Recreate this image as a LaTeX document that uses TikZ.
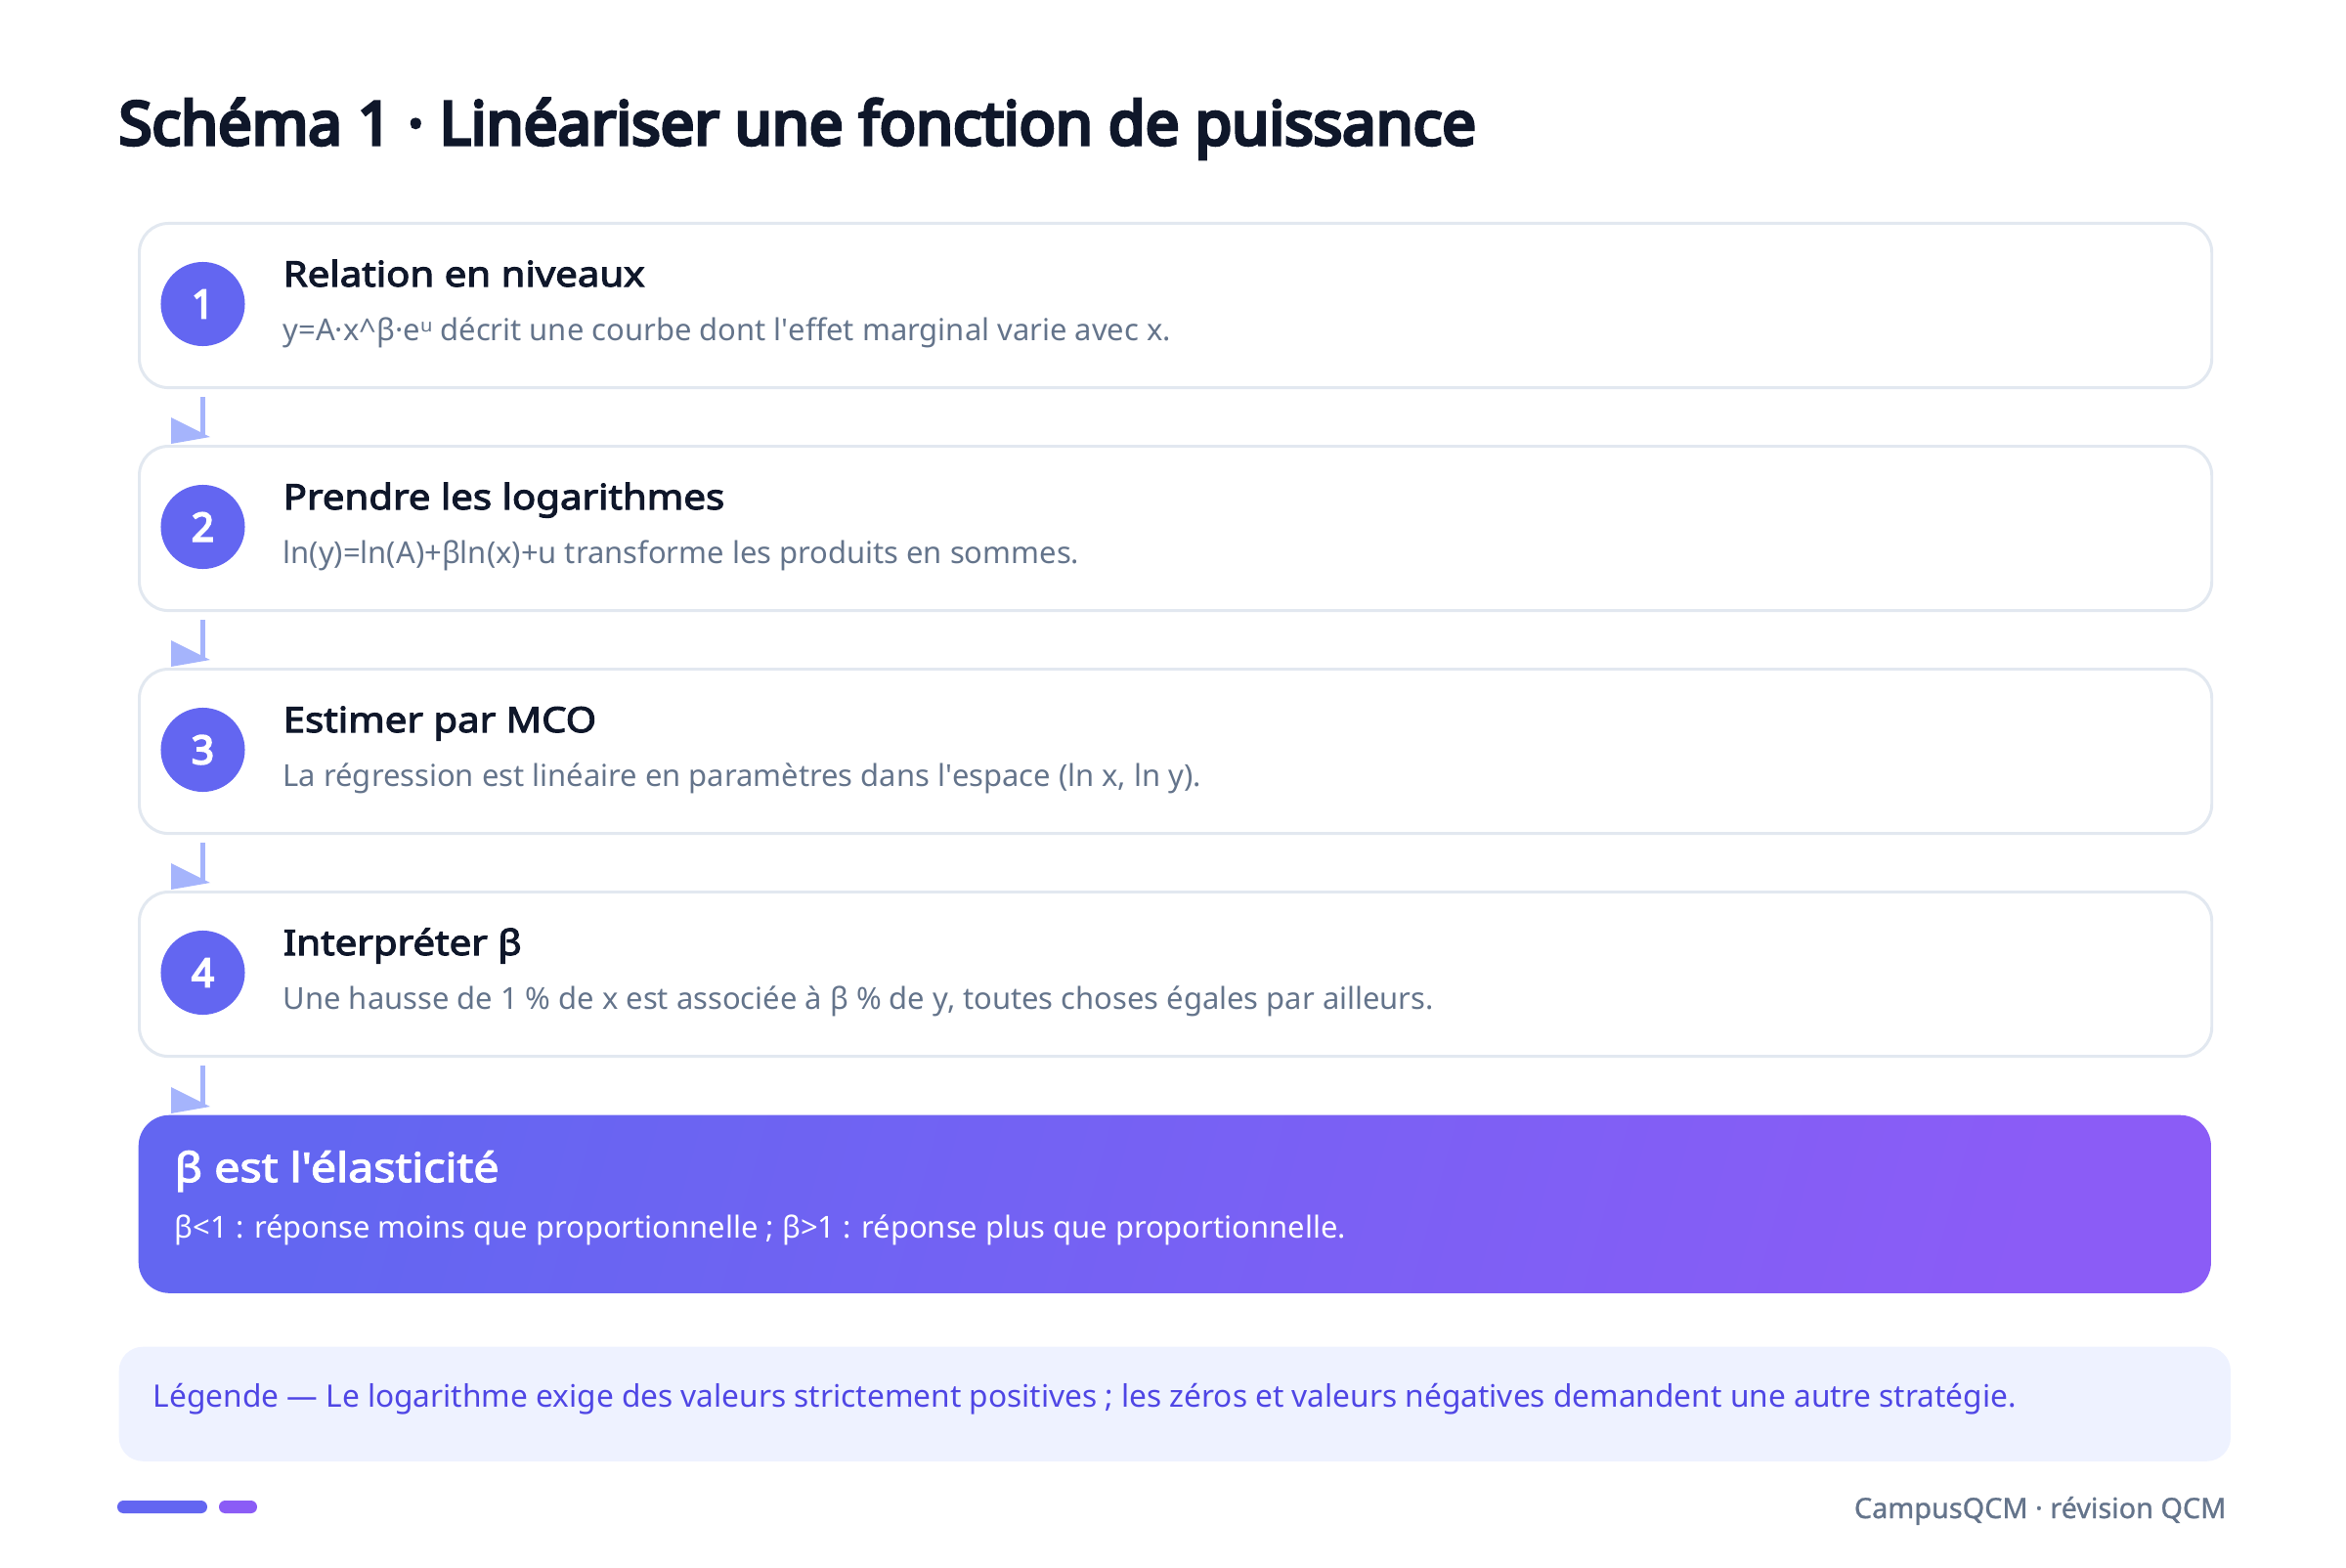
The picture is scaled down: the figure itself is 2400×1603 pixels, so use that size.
\documentclass[tikz,border=0pt]{standalone}
\usepackage{fontspec}
\setmainfont{Noto Sans}
\newfontfamily\titlefont{Noto Sans}[FakeBold=5.5]
\newfontfamily\headfont{Noto Sans}[FakeBold=3, FakeStretch=1.12]
\newfontfamily\numfont{Noto Sans}[FakeBold=4.5]
\newfontfamily\brandfont{Noto Sans}[FakeBold=1]
\usetikzlibrary{positioning}

\definecolor{ink}{HTML}{0F172A}
\definecolor{slate}{HTML}{64748B}
\definecolor{edge}{HTML}{E2E8F0}
\definecolor{indigo}{HTML}{6366F1}
\definecolor{violet}{HTML}{8B5CF6}
\definecolor{flow}{HTML}{A5B4FC}
\definecolor{mist}{HTML}{EEF2FF}
\definecolor{legendink}{HTML}{4F46E5}

\begin{document}
\begin{tikzpicture}[x=0.01cm, y=-0.01cm,
    stepbox/.style={draw=edge, line width=0.85pt, fill=white, rounded corners=8.5pt,
      minimum width=21.19cm, minimum height=1.68cm, inner sep=0pt, anchor=north west},
    numdot/.style={circle, fill=indigo, minimum size=0.86cm, inner sep=0pt, text=white,
      font=\numfont\fontsize{11.5}{12}\selectfont},
    headtxt/.style={anchor=base west, inner sep=0pt, text=ink, font=\headfont\fontsize{10.2}{12}\selectfont},
    subtxt/.style={anchor=base west, inner sep=0pt, text=slate, font=\fontsize{8.8}{10}\selectfont},
    flowline/.style={draw=flow, line width=1.42pt}]
  \fill[white] (0,0) rectangle (2400,1603);
  \useasboundingbox (0,0) rectangle (2400,1603);

  \node[anchor=base west, inner sep=0pt, text=ink, font=\titlefont\fontsize{17.5}{20}\selectfont] (title) at (121,148)
    {Schéma 1 · Linéariser une fonction de puissance};

  % steps
  \node[stepbox] (s1) at (141,227) {};
  \node[stepbox] (s2) at (141,455) {};
  \node[stepbox] (s3) at (141,683) {};
  \node[stepbox] (s4) at (141,911) {};
  \node[anchor=north west, inner sep=0pt, rounded corners=9pt, minimum width=21.19cm, minimum height=1.82cm,
    left color=indigo, right color=violet, shading angle=75] (res) at (141,1140) {};

  \node[numdot] (n1) at (207.5,311) {1};
  \node[numdot] (n2) at (207.5,539) {2};
  \node[numdot] (n3) at (207.5,767) {3};
  \node[numdot] (n4) at (207.5,995) {4};

  \node[headtxt] (h1) at (289,293) {Relation en niveaux};
  \node[subtxt] (t1) at (289,348) {y=A·x\textasciicircum β·eᵘ décrit une courbe dont l\textquotesingle effet marginal varie avec x.};
  \node[headtxt] (h2) at (289,521) {Prendre les logarithmes};
  \node[subtxt] (t2) at (289,576) {ln(y)=ln(A)+βln(x)+u transforme les produits en sommes.};
  \node[headtxt] (h3) at (289,749) {Estimer par MCO};
  \node[subtxt] (t3) at (289,804) {La régression est linéaire en paramètres dans l\textquotesingle espace (ln x, ln y).};
  \node[headtxt] (h4) at (289,977) {Interpréter β};
  \node[subtxt] (t4) at (289,1032) {Une hausse de 1 \% de x est associée à β \% de y, toutes choses égales par ailleurs.};

  \node[headtxt, text=white, font=\headfont\fontsize{11.8}{13}\selectfont] (hr) at (178,1209) {β est l\textquotesingle élasticité};
  \node[subtxt, text=white] (tr) at (178,1266)
    {β<1 : réponse moins que proportionnelle ; β>1 : réponse plus que proportionnelle.};

  % connectors
  \foreach \a/\b in {s1/s2, s2/s3, s3/s4, s4/res} {
    \path (\a.south -| n1) ++(0,8) coordinate (tail);
    \path (\b.north -| n1) ++(0,-8) coordinate (tip);
    \draw[flowline] (tail) -- (tip);
    \fill[flow] (tip) ++(-32.5,-20) -- ++(0,27) -- ++(40,-7) -- cycle;
  }

  % legend and footer
  \node[anchor=north west, inner sep=0pt, fill=mist, rounded corners=7pt, minimum width=21.59cm,
    minimum height=1.17cm] (leg) at (121,1377) {};
  \node[anchor=base west, inner sep=0pt, text=legendink, font=\fontsize{9}{10}\selectfont] (legtxt) at (156,1439)
    {Légende — Le logarithme exige des valeurs strictement positives ; les zéros et valeurs négatives demandent une autre stratégie.};

  \fill[indigo, rounded corners=1.8pt] (120,1535) rectangle (212,1548);
  \fill[violet, rounded corners=1.8pt] (224,1535) rectangle (263,1548);
  \node[anchor=base east, inner sep=0pt, text=slate, font=\brandfont\fontsize{8.2}{10}\selectfont] (brand) at (2278,1553)
    {CampusQCM · révision QCM};
\end{tikzpicture}
\end{document}
